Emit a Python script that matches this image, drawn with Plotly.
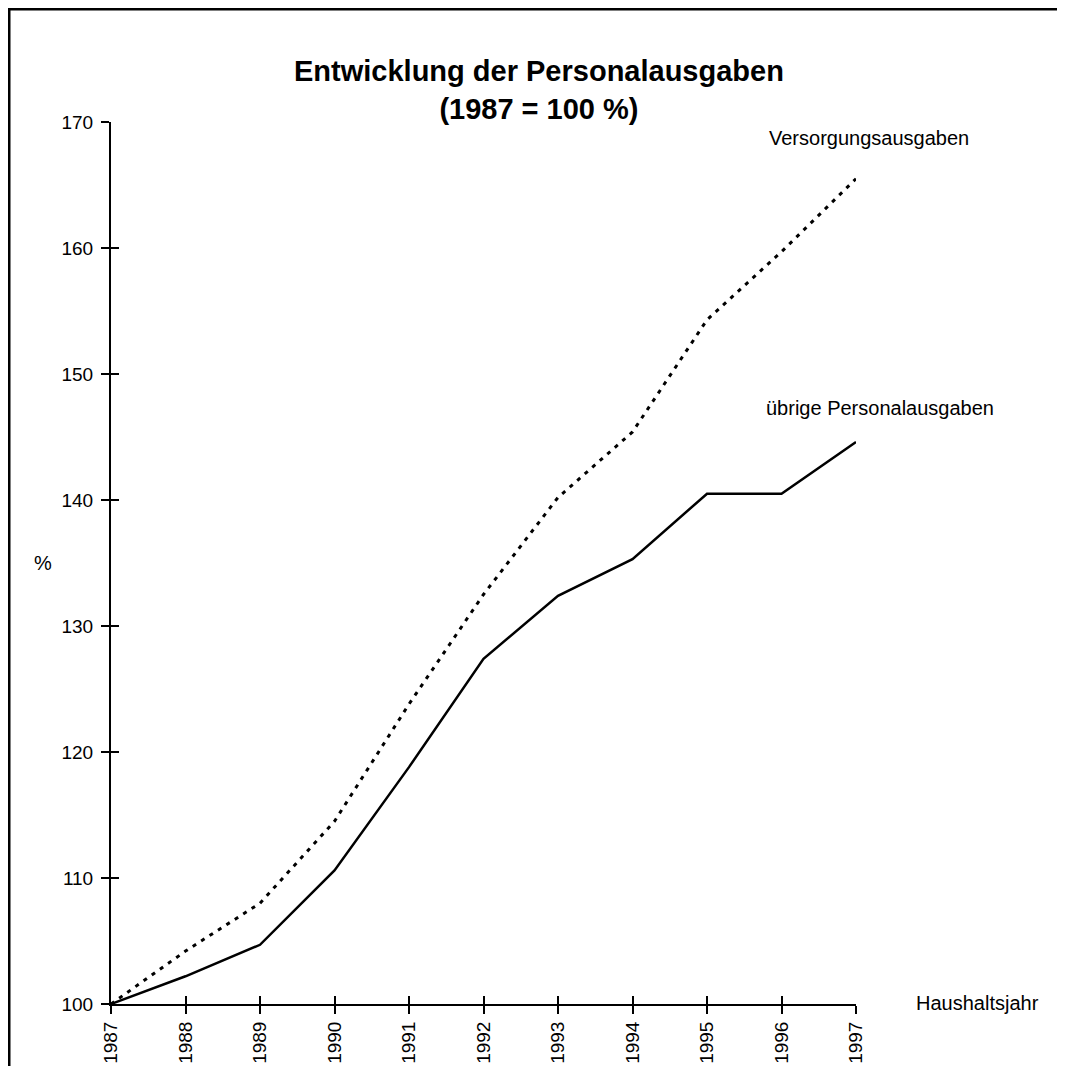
import plotly.graph_objects as go

years = [1987, 1988, 1989, 1990, 1991, 1992, 1993, 1994, 1995, 1996, 1997]
versorgung = [100, 104.2, 108.0, 114.5, 123.8, 132.5, 140.2, 145.4, 154.3, 159.7, 165.5]
uebrige = [100, 102.2, 104.7, 110.6, 118.8, 127.4, 132.4, 135.3, 140.5, 140.5, 144.6]
y_ticks = [100, 110, 120, 130, 140, 150, 160, 170]

OFF = 8  # page body margin
W, H = 1065 - OFF, 1074 - 2 * OFF
L, R, T, B = 111 - OFF, 856 - OFF, 122 - OFF, 1074 - OFF - 1004
pw, ph = R - L, H - T - B

def px(x):  # page pixel -> paper
    return (x - OFF - L) / pw

def py(y):
    return (H - B - (y - OFF)) / ph

FONT = "Liberation Sans, Arial, sans-serif"

fig = go.Figure()
fig.add_trace(go.Scatter(x=years, y=versorgung, mode="lines",
                         line=dict(color="black", width=3, dash="4px,6px"),
                         hoverinfo="skip", showlegend=False))
fig.add_trace(go.Scatter(x=years, y=uebrige, mode="lines",
                         line=dict(color="black", width=2.5),
                         hoverinfo="skip", showlegend=False))
# companion trace for the overlay axes (inner half of crossing ticks)
fig.add_trace(go.Scatter(x=years, y=uebrige, mode="markers", xaxis="x2", yaxis="y2",
                         marker=dict(opacity=0), hoverinfo="skip", showlegend=False))

axis_common = dict(showgrid=False, zeroline=False, linecolor="black", linewidth=2,
                   tickcolor="black", tickwidth=2, ticklen=8, automargin=False)

fig.update_layout(
    width=W, height=H,
    margin=dict(l=L, r=W - R, t=T, b=B, autoexpand=False),
    paper_bgcolor="white", plot_bgcolor="white",
    font=dict(family=FONT, size=19, color="black"),
    xaxis=dict(range=[1987, 1997], tickmode="array", tickvals=years,
               ticktext=[str(y) for y in years], tickangle=-90,
               ticks="outside", showline=True, tickfont=dict(size=19), **axis_common),
    yaxis=dict(range=[100, 170], tickmode="array", tickvals=y_ticks,
               ticks="outside", showline=True, tickfont=dict(size=19),
               ticklabelstandoff=4, **axis_common),
    xaxis2=dict(range=[1987, 1997], overlaying="x", anchor="y2", tickmode="array",
                tickvals=years, ticks="inside", showticklabels=False, showline=False,
                **axis_common),
    yaxis2=dict(range=[100, 170], overlaying="y", anchor="x2", tickmode="array",
                tickvals=y_ticks, ticks="inside", showticklabels=False, showline=False,
                **axis_common),
)

annotations = [
    dict(text="<b>Entwicklung der Personalausgaben<br>(1987 = 100 %)</b>", x=px(539), y=py(90),
         xanchor="center", yanchor="middle", font=dict(size=29, family=FONT)),
    dict(text="Versorgungsausgaben", x=px(767), y=py(138), xanchor="left", yanchor="middle",
         font=dict(size=20, family=FONT)),
    dict(text="übrige Personalausgaben", x=px(764), y=py(408), xanchor="left", yanchor="middle",
         font=dict(size=20, family=FONT)),
    dict(text="Haushaltsjahr", x=px(914), y=py(1003), xanchor="left", yanchor="middle",
         font=dict(size=20, family=FONT)),
    dict(text="%", x=px(43), y=py(563), xanchor="center", yanchor="middle",
         font=dict(size=20, family=FONT)),
]
for a in annotations:
    a.update(xref="paper", yref="paper", showarrow=False)
fig.update_layout(annotations=annotations)

fig.update_layout(shapes=[
    dict(type="line", xref="paper", yref="paper", x0=px(9), x1=px(9), y0=py(8), y1=py(1090),
         line=dict(color="black", width=3)),
    dict(type="line", xref="paper", yref="paper", x0=px(8), x1=px(1063), y0=py(9), y1=py(9),
         line=dict(color="black", width=3)),
    dict(type="line", xref="paper", yref="paper", x0=px(1063), x1=px(1063), y0=py(8), y1=py(1090),
         line=dict(color="#999999", width=1)),
])

fig.write_html("out.html")
